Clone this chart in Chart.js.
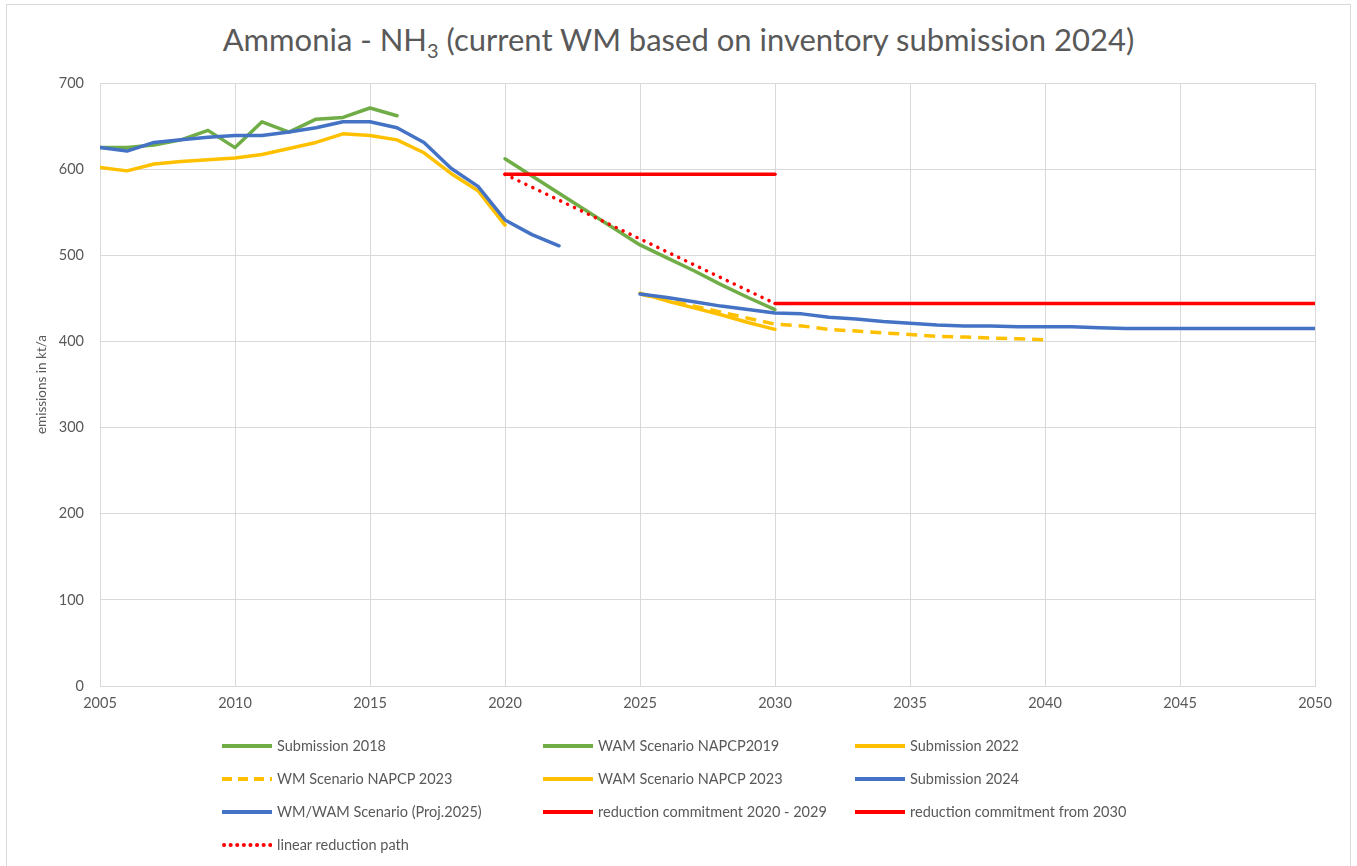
<!DOCTYPE html>
<html>
<head>
<meta charset="utf-8">
<script src="https://cdn.jsdelivr.net/npm/chart.js@4.4.1/dist/chart.umd.min.js"></script>
<style>
  html, body { margin: 0; padding: 0; background: #fff; }
  body { width: 1357px; height: 866px; position: relative; overflow: hidden; font-family: Lato, "Open Sans", sans-serif; }
  #frame { position: absolute; left: 6px; top: 4px; width: 1345px; height: 900px; border: 1px solid #d9d9d9; box-sizing: border-box; }
  #title { position: absolute; left: 0; top: 20px; width: 1357px; text-align: center; font-size: 31px; color: #595959; white-space: nowrap; }
  #title sub { font-size: 20px; vertical-align: -7px; line-height: 0; }
  #wrap { position: absolute; left: 0; top: 0; width: 1357px; height: 866px; }
  #legend { position: absolute; left: 222px; top: 729px; display: grid; grid-template-columns: 321px 312px 318px; grid-auto-rows: 33px; }
  .item { display: flex; align-items: center; font-size: 14.5px; color: #595959; white-space: nowrap; }
  .item svg { margin-right: 5px; flex: none; }
</style>
</head>
<body>
<div id="frame"></div>
<div id="title">Ammonia - NH<sub>3</sub> (current WM based on inventory submission 2024)</div>
<div id="wrap"><canvas id="chart"></canvas></div>
<div id="legend"></div>
<script>
// years for each series
const yearsSub2018 = [2005, 2006, 2007, 2008, 2009, 2010, 2011, 2012, 2013, 2014, 2015, 2016];
const yearsSub2022 = [2005, 2006, 2007, 2008, 2009, 2010, 2011, 2012, 2013, 2014, 2015, 2016, 2017, 2018, 2019, 2020];
const yearsSub2024 = [2005, 2006, 2007, 2008, 2009, 2010, 2011, 2012, 2013, 2014, 2015, 2016, 2017, 2018, 2019, 2020, 2021, 2022];
const yearsWam2019 = [2020, 2021, 2022, 2023, 2024, 2025, 2026, 2027, 2028, 2029, 2030];
const yearsWm2023 = [2025, 2026, 2027, 2028, 2029, 2030, 2031, 2032, 2033, 2034, 2035, 2036, 2037, 2038, 2039, 2040];
const yearsWam2023 = [2025, 2026, 2027, 2028, 2029, 2030];
const yearsProj2025 = [2025, 2026, 2027, 2028, 2029, 2030, 2031, 2032, 2033, 2034, 2035, 2036, 2037, 2038,
                       2039, 2040, 2041, 2042, 2043, 2044, 2045, 2046, 2047, 2048, 2049, 2050];
const yearsCommit2020 = [2020, 2030];
const yearsCommit2030 = [2030, 2050];
const yearsLinear = [2020, 2030];

// emissions in kt/a
const sub2018 = [625, 625, 628, 634, 645, 625, 655, 643, 658, 660, 671, 662];
const sub2022 = [602, 598, 606, 609, 611, 613, 617, 624, 631, 641, 639, 634, 619, 595, 575, 535];
const sub2024 = [625, 621, 631, 634, 637, 639, 639, 643, 648, 655, 655, 648, 631, 601, 580, 541, 524, 511];
const wam2019 = [612, 592, 572, 552, 532, 512, 497, 482, 466, 451, 437];
const wm2023 = [455, 448, 441, 434, 427, 420, 418, 414, 412, 410, 408, 406, 405, 404, 403, 402];
const wam2023 = [456, 447, 439, 431, 422, 414];
const proj2025 = [455, 451, 446, 441, 437, 433, 432, 428, 426, 423, 421, 419, 418, 418,
                  417, 417, 417, 416, 415, 415, 415, 415, 415, 415, 415, 415];
const commit2020 = [594, 594];
const commit2030 = [444, 444];
const linearPath = [594, 444];

const xTicks = [2005, 2010, 2015, 2020, 2025, 2030, 2035, 2040, 2045, 2050];

const GREEN = '#70ad47', YELLOW = '#ffc000', BLUE = '#4472c4', RED = '#ff0000';
const TXT = '#595959', GRID = '#d9d9d9';

const pts = (xs, ys) => xs.map((x, i) => ({ x: x, y: ys[i] }));

const series = [
    { label: 'Submission 2018', x: yearsSub2018, y: sub2018, color: GREEN },
    { label: 'WAM Scenario NAPCP2019', x: yearsWam2019, y: wam2019, color: GREEN },
    { label: 'Submission 2022', x: yearsSub2022, y: sub2022, color: YELLOW },
    { label: 'WM Scenario NAPCP 2023', x: yearsWm2023, y: wm2023, color: YELLOW, dash: [11, 7], cap: 'butt' },
    { label: 'WAM Scenario NAPCP 2023', x: yearsWam2023, y: wam2023, color: YELLOW },
    { label: 'Submission 2024', x: yearsSub2024, y: sub2024, color: BLUE },
    { label: 'WM/WAM Scenario (Proj.2025)', x: yearsProj2025, y: proj2025, color: BLUE },
    { label: 'reduction commitment 2020 - 2029', x: yearsCommit2020, y: commit2020, color: RED },
    { label: 'reduction commitment from 2030', x: yearsCommit2030, y: commit2030, color: RED },
    { label: 'linear reduction path', x: yearsLinear, y: linearPath, color: RED, dash: [0.1, 7.6], cap: 'round' }
];

const datasets = series.map((s, i) => ({
    label: s.label,
    data: pts(s.x, s.y),
    borderColor: s.color,
    backgroundColor: s.color,
    borderWidth: 3.5,
    borderDash: s.dash || [],
    borderCapStyle: s.cap || 'round',
    borderJoinStyle: 'round',
    pointRadius: 0,
    tension: 0,
    fill: false,
    order: series.length - i // later series drawn on top, like Excel
}));

new Chart(document.getElementById('chart'), {
    type: 'line',
    data: { datasets: datasets },
    options: {
        responsive: true,
        maintainAspectRatio: false,
        animation: false,
        layout: { padding: { left: 30, top: 83, right: 42, bottom: 0 } },
        plugins: { legend: { display: false }, tooltip: { enabled: false } },
        scales: {
            x: {
                type: 'linear',
                min: 2005,
                max: 2050,
                afterBuildTicks: (axis) => { axis.ticks = xTicks.map(v => ({ value: v })); },
                afterFit: (axis) => { axis.height = 180; },
                ticks: { color: TXT, font: { family: 'Lato', size: 14.5 }, padding: 9, maxRotation: 0,
                         callback: (v) => String(v) },
                grid: { color: GRID, lineWidth: 1, drawTicks: false },
                border: { color: GRID }
            },
            y: {
                min: 0,
                max: 700,
                afterFit: (axis) => { axis.width = 70; },
                ticks: { stepSize: 100, color: TXT, font: { family: 'Lato', size: 14.5 }, padding: 16 },
                grid: { color: GRID, lineWidth: 1, drawTicks: false },
                border: { color: GRID },
                title: { display: true, text: 'emissions in kt/a', color: TXT, font: { family: 'Lato', size: 13.5 } }
            }
        }
    }
});

// legend in three columns, like the original
const legend = document.getElementById('legend');
series.forEach((s) => {
    const item = document.createElement('div');
    item.className = 'item';
    const dash = s.dash ? (s.cap === 'round' ? '0.1 6.5' : '10 6') : '';
    item.innerHTML =
        `<svg width="50" height="8"><line x1="${s.cap === 'round' && s.dash ? 2 : 0}" y1="4" x2="50" y2="4" stroke="${s.color}" stroke-width="4"` +
        ` stroke-linecap="${s.dash ? s.cap : 'butt'}" ${dash ? `stroke-dasharray="${dash}"` : ''}/></svg><span>${s.label}</span>`;
    legend.appendChild(item);
});
</script>
</body>
</html>
